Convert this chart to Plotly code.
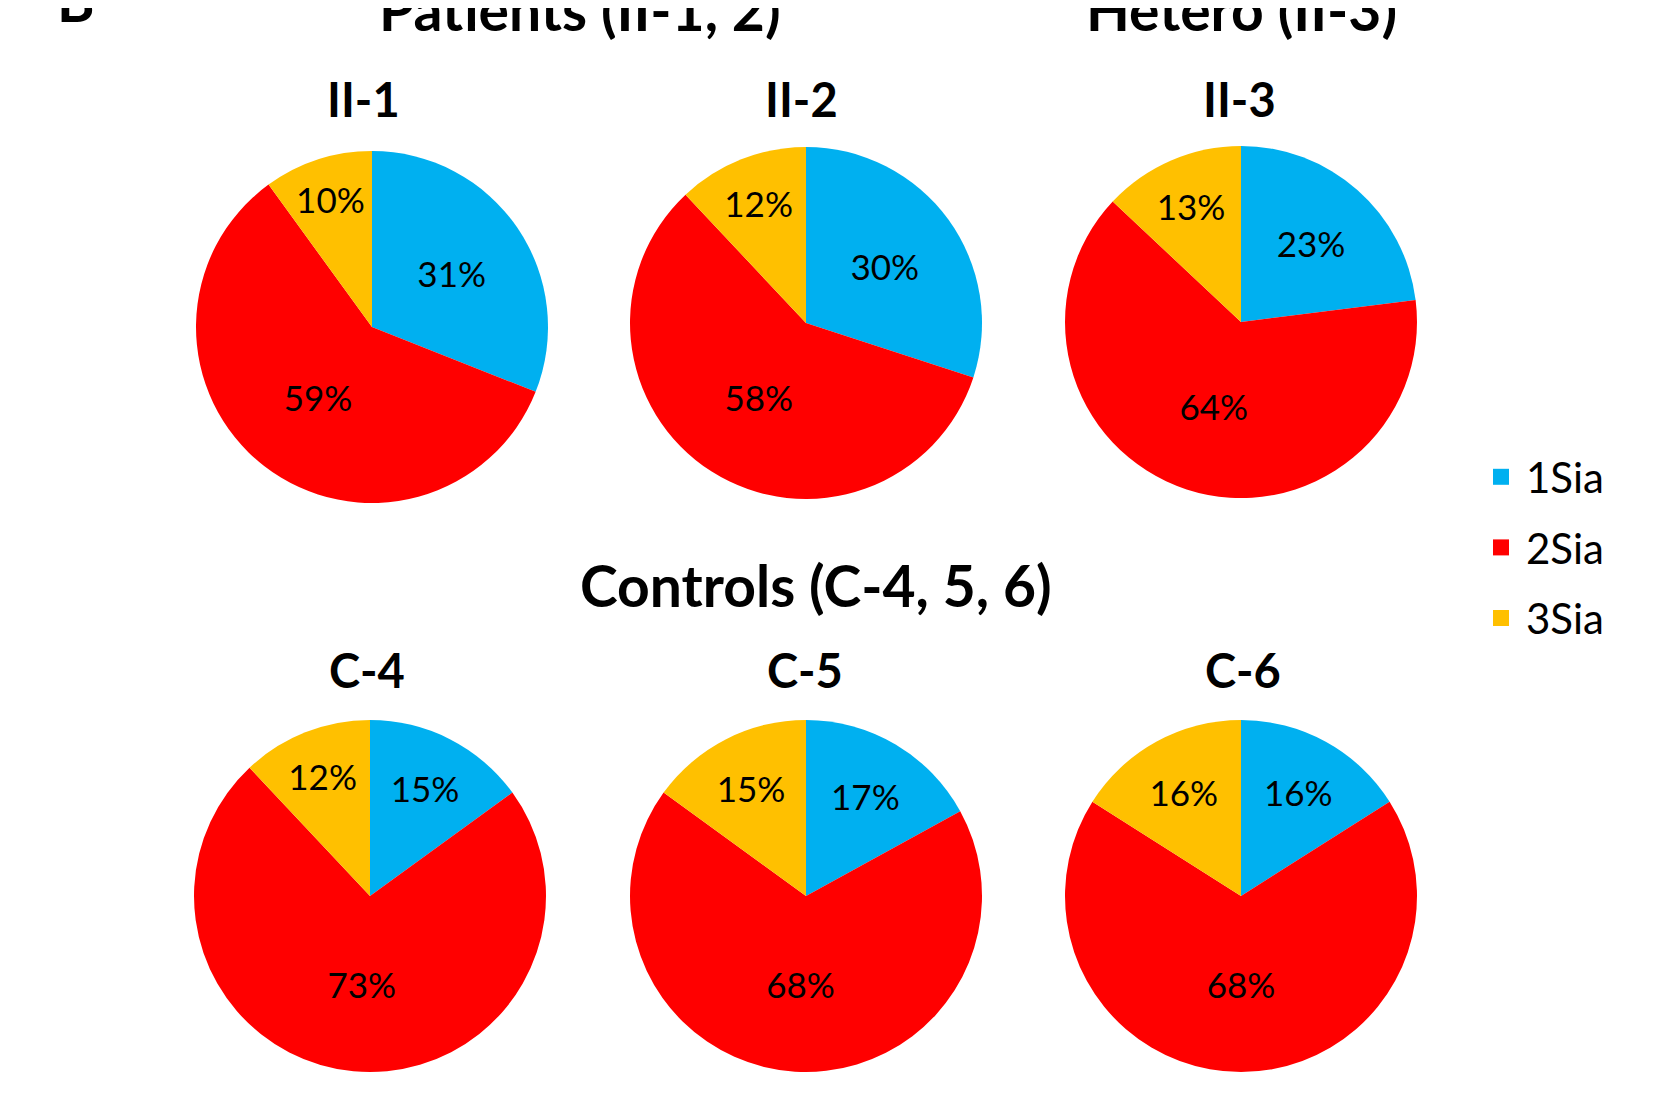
import plotly.graph_objects as go

# page body adds an 8px margin; the figure is sized so it fills the window
OFF = 8
W, H = 1678 - OFF, 1095 - OFF

categories = ["1Sia", "2Sia", "3Sia"]
colors = ["#00B0F0", "#FF0000", "#FFC000"]

samples = ["II-1", "II-2", "II-3", "C-4", "C-5", "C-6"]
val_II1 = [31, 59, 10]
val_II2 = [30, 58, 12]
val_II3 = [23, 64, 13]
val_C4 = [15, 73, 12]
val_C5 = [17, 68, 15]
val_C6 = [16, 68, 16]
series = [val_II1, val_II2, val_II3, val_C4, val_C5, val_C6]

group_titles = ["Patients (II-1, 2)", "Hetero (II-3)", "Controls (C-4, 5, 6)"]
panel_letter = "B"

FONT = "Lato, 'Open Sans', sans-serif"

# layout geometry in screen pixels
pie_centers = [(372, 327), (806, 323), (1241, 322), (370, 896), (806, 896), (1241, 896)]
R = 176
sub_pos = [(363, 99), (801, 99), (1239, 99), (367, 670), (805, 670), (1243, 670)]


def px_x(x):
    return (x - OFF) / W


def px_y(y):
    return (H - (y - OFF)) / H


fig = go.Figure()
for name, vals, (cx, cy) in zip(samples, series, pie_centers):
    x0, x1 = cx - R, cx + R
    y0, y1 = cy - R, cy + R
    fig.add_trace(go.Pie(
        labels=categories,
        values=vals,
        sort=False,
        direction="clockwise",
        rotation=0,
        marker=dict(colors=colors, line=dict(width=0)),
        texttemplate="%{value}%",
        textposition="inside",
        insidetextorientation="horizontal",
        textfont=dict(family=FONT, size=35, color="black"),
        hoverinfo="label+value",
        showlegend=False,
        domain=dict(x=[px_x(x0), px_x(x1)], y=[px_y(y1), px_y(y0)]),
        name=name,
    ))

# legend entries
for cat, c in zip(categories, colors):
    fig.add_trace(go.Scatter(
        x=[None], y=[None], mode="markers", name=cat,
        legendgroup=cat,
        marker=dict(symbol="square", size=22, color=c),
        hoverinfo="skip",
    ))

annotations = []
for name, (sx, sy) in zip(samples, sub_pos):
    annotations.append(dict(
        text="<b>%s</b>" % name, x=px_x(sx), y=px_y(sy),
        xref="paper", yref="paper", showarrow=False,
        xanchor="center", yanchor="middle",
        font=dict(family=FONT, size=47, color="black"),
    ))

for txt, (sx, sy) in zip(group_titles + [panel_letter],
                         [(580, 9), (1241, 9), (816, 585), (76, 0)]):
    annotations.append(dict(
        text="<b>%s</b>" % txt, x=px_x(sx), y=px_y(sy),
        xref="paper", yref="paper", showarrow=False,
        xanchor="center", yanchor="middle",
        font=dict(family=FONT, size=57, color="black"),
    ))

fig.update_layout(
    width=W, height=H,
    margin=dict(l=0, r=0, t=0, b=0),
    paper_bgcolor="white", plot_bgcolor="white",
    xaxis=dict(visible=False), yaxis=dict(visible=False),
    annotations=annotations,
    legend=dict(
        x=px_x(1476), y=px_y(443), xanchor="left", yanchor="top",
        font=dict(family=FONT, size=42, color="black"),
        tracegroupgap=13, itemsizing="trace", itemwidth=40,
        bgcolor="rgba(0,0,0,0)",
    ),
    showlegend=True,
)

fig.write_html("out.html")
